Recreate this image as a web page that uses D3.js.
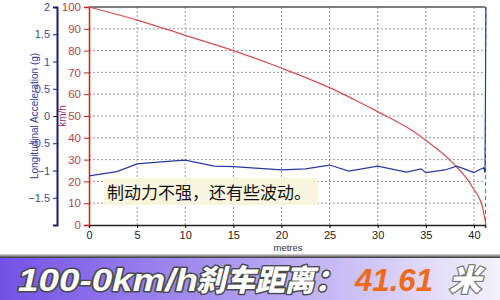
<!DOCTYPE html>
<html><head><meta charset="utf-8">
<script src="https://cdn.jsdelivr.net/npm/d3@7"></script>
<style>
body{margin:0;background:#fff;}
svg{display:block;}
</style></head>
<body>
<svg id="c" width="500" height="300"></svg>
<script>
// Data
const speedDist = [0,5,10,15,20,25,27.8,30,33.7,35.1,37.8,39.9,40.9,41.25];
const speedVals = [100,94,87,80,72,63,57,52,43,38.5,28.5,17,8,0];
const accDist = [0,2.9,5,7.5,10,13,15,20,22.5,25,27,30,33,34.5,35,37,38.2,39,40,40.5,41,41.15,41.25];
const accVals = [-1.10,-1.02,-0.88,-0.84,-0.81,-0.92,-0.93,-0.99,-0.97,-0.90,-1.01,-0.92,-1.03,-0.97,-1.04,-0.99,-0.92,-0.97,-1.04,-0.99,-0.95,-1.04,2.0];
const xTicks = [0,5,10,15,20,25,30,35,40];
const speedTicks = [0,10,20,30,40,50,60,70,80,90,100];
const accTicks = [-1.5,-1,-0.5,0,0.5,1,1.5,2];
const note = "制动力不强，还有些波动。";
const bannerLabel = "100-0km/h";
const bannerLabelCn = "刹车距离：";
const bannerValue = "41.61";
const bannerUnit = "米";

const svg = d3.select("#c");
const L = 89, R = 485, T = 7, B = 225;
const x = d3.scaleLinear().domain([0, 41.15]).range([L, R]);
const yS = d3.scaleLinear().domain([0, 100]).range([B, T]);
const yA = d3.scaleLinear().domain([-2, 2]).range([B, T]);
const font = "'Liberation Sans', Arial, sans-serif";

// grid
const g = svg.append("g");
g.selectAll(".hg").data(speedTicks.filter(d => d > 0 && d < 100)).enter().append("line")
  .attr("x1", L).attr("x2", R).attr("y1", d => yS(d)).attr("y2", d => yS(d))
  .attr("stroke", "#9a9a9a").attr("stroke-width", 1).attr("stroke-dasharray", "2,2");
g.selectAll(".vg").data(xTicks.filter(d => d > 0)).enter().append("line")
  .attr("y1", T).attr("y2", B).attr("x1", d => x(d)).attr("x2", d => x(d))
  .attr("stroke", "#9a9a9a").attr("stroke-width", 1).attr("stroke-dasharray", "2,2");
// right border dashed green
svg.append("line").attr("x1", R + 0.5).attr("x2", R + 0.5).attr("y1", T).attr("y2", B)
  .attr("stroke", "#3d8a5a").attr("stroke-width", 1).attr("stroke-dasharray", "4,3");
// top border
svg.append("line").attr("x1", L).attr("x2", R).attr("y1", T).attr("y2", T)
  .attr("stroke", "#555").attr("stroke-width", 1.5);

// x axis
const xAxis = svg.append("g").attr("transform", `translate(0,${B})`)
  .call(d3.axisBottom(x).tickValues(xTicks).tickSize(3).tickFormat(d3.format("d")));
xAxis.select(".domain").attr("stroke", "#222").attr("stroke-width", 1.5);
xAxis.selectAll("text").attr("font-family", font).attr("font-size", 11).attr("fill", "#222");
svg.append("text").attr("x", 288).attr("y", 251).attr("text-anchor", "middle")
  .attr("font-family", font).attr("font-size", 9.5).attr("fill", "#333").text("metres");

// speed axis (red)
const sAxis = svg.append("g").attr("transform", `translate(${L},0)`)
  .call(d3.axisLeft(yS).tickValues(speedTicks).tickSize(5).tickFormat(d3.format("d")));
sAxis.select(".domain").attr("stroke", "#cc2020").attr("stroke-width", 1.5);
sAxis.selectAll("line").attr("stroke", "#cc2020");
sAxis.selectAll("text").attr("font-family", font).attr("font-size", 11.5).attr("fill", "#b04848");
svg.append("text").attr("transform", `translate(66,${(T+B)/2}) rotate(-90)`)
  .attr("text-anchor", "middle").attr("font-family", font).attr("font-size", 10).attr("fill", "#a03070").text("km/h");

// acc axis (blue)
const aAxis = svg.append("g").attr("transform", `translate(57,0)`)
  .call(d3.axisLeft(yA).tickValues(accTicks).tickSize(4).tickFormat(d => d3.format("")(d)));
aAxis.select(".domain").attr("stroke", "#1c1c6a").attr("stroke-width", 2);
aAxis.selectAll("line").attr("stroke", "#1c1c6a");
aAxis.selectAll("text").attr("font-family", font).attr("font-size", 11).attr("fill", "#4a4a80");
svg.append("text").attr("transform", `translate(38,${(T+B)/2}) rotate(-90)`)
  .attr("text-anchor", "middle").attr("font-family", font).attr("font-size", 10).attr("fill", "#3c3c90")
  .text("Longitudinal Acceleration (g)");

// series
svg.append("path").datum(speedDist.map((d, i) => [d, speedVals[i]]))
  .attr("fill", "none").attr("stroke", "#d05050").attr("stroke-width", 1.2)
  .attr("d", d3.line().x(d => x(d[0])).y(d => yS(d[1])).curve(d3.curveMonotoneX));
svg.append("path").datum(accDist.map((d, i) => [d, accVals[i]]))
  .attr("fill", "none").attr("stroke", "#2a3a9a").attr("stroke-width", 1.2)
  .attr("d", d3.line().x(d => x(d[0])).y(d => yA(d[1])));

// annotation
svg.append("rect").attr("x", 104).attr("y", 178).attr("width", 214).attr("height", 27)
  .attr("fill", "#f7f5dc").attr("opacity", 0.9);
svg.append("text").attr("x", 107).attr("y", 199).attr("font-family", "'Noto Sans CJK SC', sans-serif")
  .attr("font-size", 17).attr("fill", "#111").text(note);

// banner
const defs = svg.append("defs");
const lg = defs.append("linearGradient").attr("id", "bg").attr("x1", 0).attr("x2", 1);
lg.append("stop").attr("offset", 0).attr("stop-color", "#7252e6");
lg.append("stop").attr("offset", 0.45).attr("stop-color", "#a996f0");
lg.append("stop").attr("offset", 1).attr("stop-color", "#f4f2fc");
const sg = defs.append("linearGradient").attr("id", "sh").attr("x1", 0).attr("x2", 0).attr("y1", 0).attr("y2", 1);
sg.append("stop").attr("offset", 0).attr("stop-color", "#ddd");
sg.append("stop").attr("offset", 1).attr("stop-color", "#333");
svg.append("rect").attr("x", 0).attr("y", 254).attr("width", 500).attr("height", 4).attr("fill", "url(#sh)");
svg.append("rect").attr("x", 0).attr("y", 258).attr("width", 500).attr("height", 42).attr("fill", "url(#bg)");

function banner(txt, xp, fill, stroke, fam, size, w, len) {
  const t = svg.append("text").attr("x", xp).attr("y", 291)
    .attr("font-family", fam).attr("font-weight", 900).attr("font-style", "italic")
    .attr("font-size", size).attr("paint-order", "stroke").attr("stroke-linejoin", "round")
    .attr("fill", fill).attr("textLength", len).attr("lengthAdjust", "spacingAndGlyphs").text(txt);
  if (stroke) t.attr("stroke", stroke).attr("stroke-width", w);
  return t;
}
banner(bannerLabel, 18, "#fff", "#4a4a4a", "'Liberation Sans', Arial, sans-serif", 31, 3, 180);
banner(bannerLabelCn, 196, "#fff", "#4a4a4a", "'Noto Sans CJK SC', sans-serif", 30, 3, 148);
banner(bannerValue, 355, "#ee6a1c", null, "'Liberation Sans', Arial, sans-serif", 31, 0, 78);
banner(bannerUnit, 449, "#fff", "#777", "'Noto Sans CJK SC', sans-serif", 30, 2.5, 32);
</script>
</body></html>
